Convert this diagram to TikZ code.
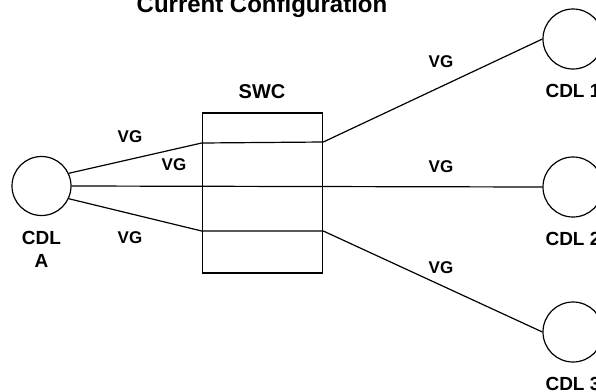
\documentclass[tikz,border=0pt]{standalone}
\usepackage{fontspec}
\setmainfont{Liberation Sans}
\usetikzlibrary{positioning}
\tikzset{
 cdl/.style={draw,circle,line width=1.2pt,minimum size=60pt,inner sep=0pt},
 swcbox/.style={draw,line width=1.6pt,minimum width=120pt,minimum height=160pt,inner sep=0pt},
 link/.style={line width=1.2pt},
 lbl/.style={font=\fontsize{17}{20}\selectfont\bfseries,inner sep=0pt,align=center},
 cdlname/.style={lbl,font=\fontsize{19}{22}\selectfont\bfseries}
}

\begin{document}
\begin{tikzpicture}[x=1pt,y=-1pt,node distance=12pt]
\useasboundingbox (0,0) rectangle (596,391);
\node[lbl,anchor=base,font=\fontsize{24}{28}\selectfont\bfseries] (title) at (262,12) {Current Configuration};
\node[cdl,minimum size=59pt] (cdla) at (41.5,186) {};
\node[swcbox] (swc) at (262.5,193) {};
\node[cdl] (cdl1) at (573,39) {};
\node[cdl] (cdl2) at (573,187) {};
\node[cdl] (cdl3) at (573,332) {};
% ports on the switch
\coordinate (inA) at (swc.west |- 0,143);
\coordinate (inB) at (swc.west |- 0,231);
\coordinate (outA) at (swc.east |- 0,142);
\coordinate (outB) at (swc.east |- 0,231);
\draw[link] (cdla.25)--(inA)--(outA)--(cdl1.west);
\draw[link] (cdla.east)--(cdl2.west);
\draw[link] (cdla.-25)--(inB)--(outB)--(cdl3.west);
% labels
\node[cdlname,font=\fontsize{20}{24}\selectfont\bfseries] (swclbl) at (262,92) {SWC};
\node[cdlname] (lbla) at (41.5,249) {CDL\\[1pt]A};
\node[cdlname,below=14pt of cdl1] (lbl1) {CDL 1};
\node[cdlname,below=14pt of cdl2] (lbl2) {CDL 2};
\node[cdlname,below=14pt of cdl3] (lbl3) {CDL 3};
\node[lbl] (vg1) at (130,137) {VG};
\node[lbl] (vg2) at (174,165) {VG};
\node[lbl] (vg3) at (130,238) {VG};
\node[lbl] (vg4) at (441,62) {VG};
\node[lbl] (vg5) at (441,167) {VG};
\node[lbl] (vg6) at (441,268) {VG};
\end{tikzpicture}
\end{document}
